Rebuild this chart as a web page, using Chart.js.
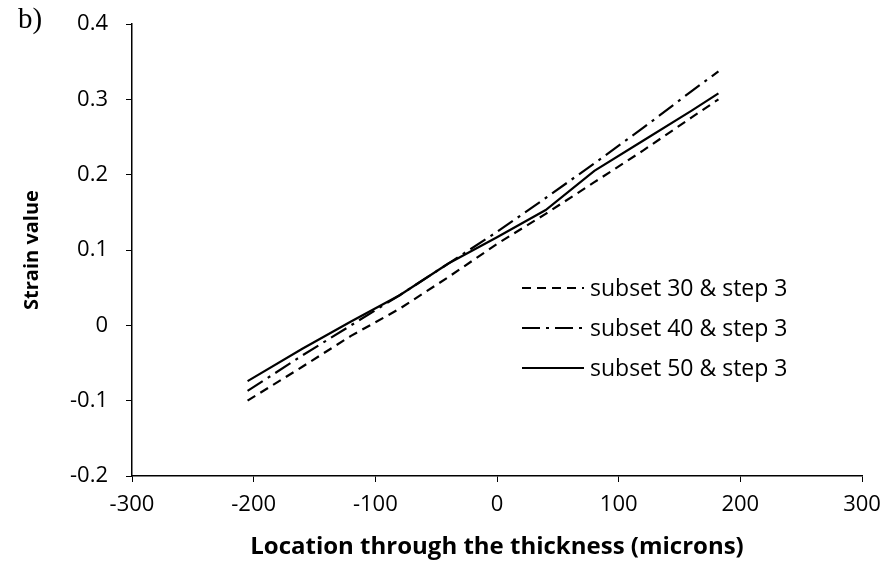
<!DOCTYPE html>
<html>
<head>
<meta charset="utf-8">
<script src="https://cdn.jsdelivr.net/npm/chart.js@4"></script>
<style>
  html, body { margin: 0; padding: 0; background: #fff; }
  #wrap { position: relative; width: 888px; height: 568px; }
  #tag { position: absolute; left: 18px; top: 2px; font: 29px "Liberation Serif", serif; color: #000; }
</style>
</head>
<body>
<div id="wrap">
  <canvas id="strainChart" width="888" height="568"></canvas>
  <div id="tag">b)</div>
</div>
<script>
// Dados
const locations = [-205, -160, -120, -80, -40, 0, 40, 80, 120, 160, 182];
const subset30 = [-0.100, -0.055, -0.014, 0.022, 0.064, 0.108, 0.148, 0.190, 0.232, 0.276, 0.300];
const subset40 = [-0.087, -0.040, 0.000, 0.040, 0.082, 0.124, 0.169, 0.215, 0.262, 0.311, 0.337];
const subset50 = [-0.074, -0.031, 0.005, 0.040, 0.082, 0.117, 0.153, 0.205, 0.245, 0.285, 0.308];
const seriesNames = ["subset 30 & step 3", "subset 40 & step 3", "subset 50 & step 3"];
const xTicks = [-300, -200, -100, 0, 100, 200, 300];
const yTicks = [-0.2, -0.1, 0, 0.1, 0.2, 0.3, 0.4];

const FONT = "'Open Sans', sans-serif";

function toPoints(values) {
    return locations.map((x, i) => ({ x: x, y: values[i] }));
}

// Legenda desenhada dentro da área do gráfico
const insideLegend = {
    id: "insideLegend",
    afterDraw(chart) {
        const ctx = chart.ctx;
        const x0 = 522, x1 = 584, tx = 590;
        const rows = [288, 328, 368];
        ctx.save();
        chart.data.datasets.forEach((ds, i) => {
            const y = rows[i];
            ctx.beginPath();
            ctx.setLineDash(ds.borderDash || []);
            ctx.lineWidth = ds.borderWidth;
            ctx.strokeStyle = ds.borderColor;
            ctx.moveTo(x0, y);
            ctx.lineTo(x1, y);
            ctx.stroke();
            ctx.setLineDash([]);
            ctx.fillStyle = "#000";
            ctx.font = "23px " + FONT;
            ctx.textBaseline = "middle";
            ctx.textAlign = "left";
            ctx.fillText(ds.label, tx, y + 1);
        });
        ctx.restore();
    }
};

const ctx = document.getElementById("strainChart").getContext("2d");
new Chart(ctx, {
    type: "line",
    data: {
        datasets: [
            { label: seriesNames[0], data: toPoints(subset30), borderDash: [9, 6] },
            { label: seriesNames[1], data: toPoints(subset40), borderDash: [18, 6, 3, 6] },
            { label: seriesNames[2], data: toPoints(subset50), borderDash: [] }
        ].map(ds => Object.assign(ds, {
            borderColor: "#000",
            borderWidth: 2.2,
            pointRadius: 0,
            fill: false,
            tension: 0
        }))
    },
    options: {
        responsive: false,
        animation: false,
        layout: { padding: { left: 0, right: 26, top: 24, bottom: 0 } },
        plugins: {
            legend: { display: false },
            tooltip: { enabled: false }
        },
        scales: {
            x: {
                type: "linear",
                min: xTicks[0],
                max: xTicks[xTicks.length - 1],
                afterBuildTicks: s => { s.ticks = xTicks.map(v => ({ value: v })); },
                afterFit: s => { s.height = 92; s.paddingLeft = 0; s.paddingRight = 0; },
                grid: { drawOnChartArea: false, drawTicks: true, tickLength: 6, color: "#000" },
                border: { display: true, color: "#000", width: 1.5 },
                ticks: { color: "#000", font: { size: 22, family: FONT }, padding: 10, maxRotation: 0 },
                title: { display: true, text: "Location through the thickness (microns)", color: "#000",
                         font: { size: 24, weight: "bold", family: FONT }, padding: { top: 0, bottom: 6 } }
            },
            y: {
                min: yTicks[0],
                max: yTicks[yTicks.length - 1],
                afterBuildTicks: s => { s.ticks = yTicks.map(v => ({ value: v })); },
                afterFit: s => { s.width = 132; s.paddingTop = 0; s.paddingBottom = 0; },
                grid: { drawOnChartArea: false, drawTicks: true, tickLength: 6, color: "#000" },
                border: { display: true, color: "#000", width: 1.5 },
                ticks: {
                    color: "#000", font: { size: 22, family: FONT }, padding: 18,
                    callback: v => Math.abs(v) < 1e-9 ? "0" : (Math.round(v * 10) / 10).toFixed(1)
                },
                title: { display: true, text: "Strain value", color: "#000",
                         font: { size: 20, weight: "bold", family: FONT }, padding: { top: 20, bottom: 0 } }
            }
        }
    },
    plugins: [insideLegend]
});
</script>
</body>
</html>
